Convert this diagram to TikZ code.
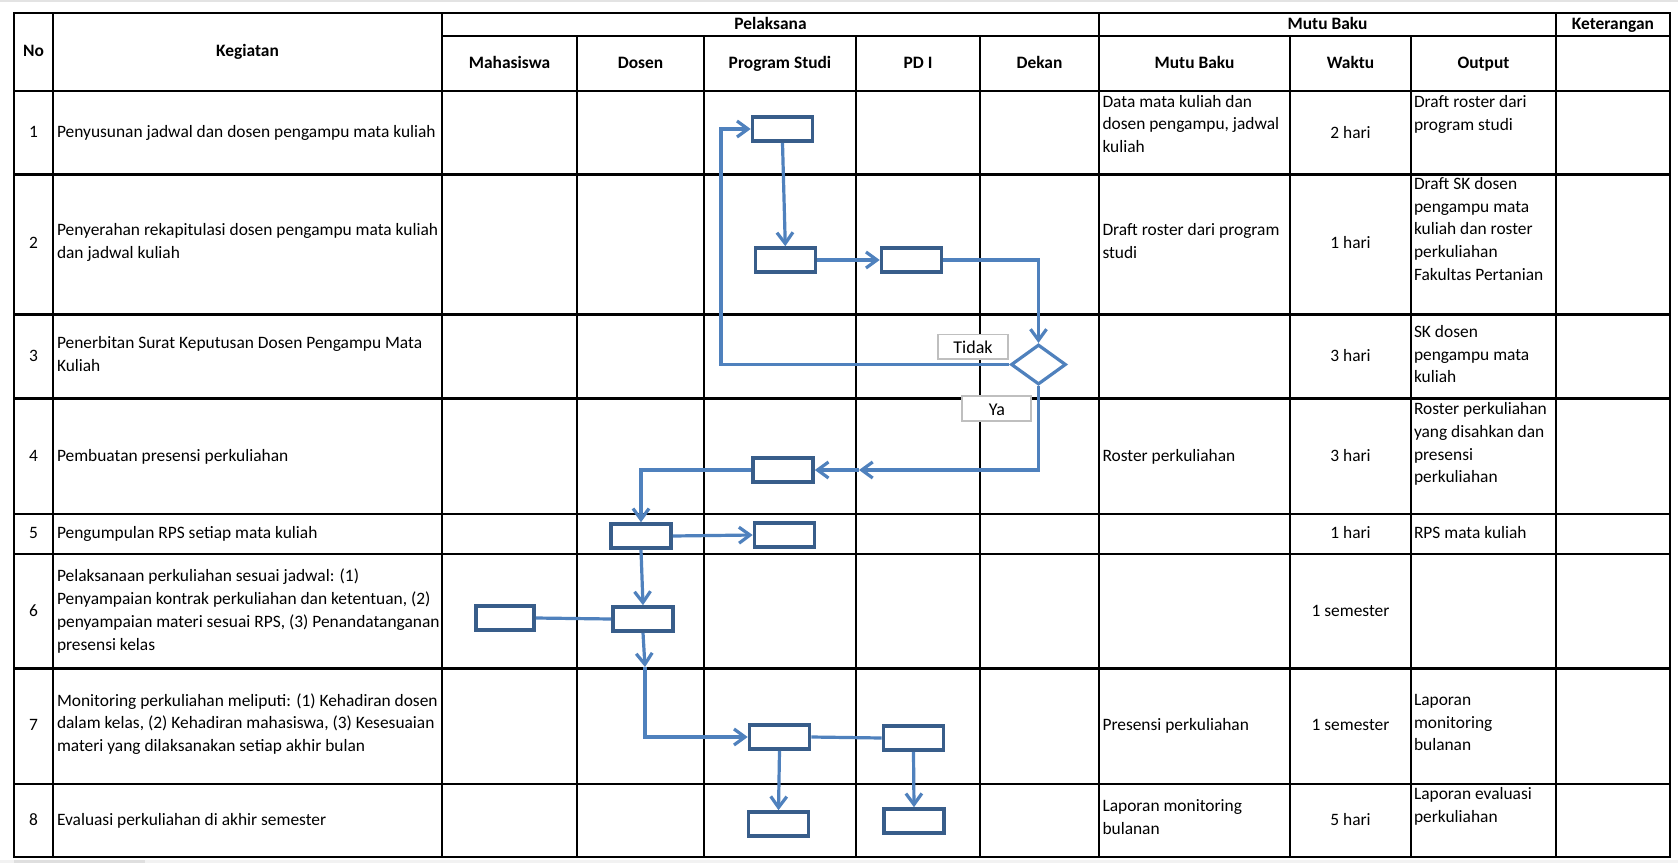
\documentclass[tikz,border=0pt]{standalone}
\usepackage{fontspec}
\setmainfont{Carlito}
\usetikzlibrary{arrows.meta,shapes.geometric,calc}
\definecolor{boxc}{HTML}{385D8A}
\definecolor{linec}{HTML}{4F81BD}
\definecolor{lblc}{HTML}{BFBFBF}
\newcommand\cellfont{\fontsize{8.7}{11.4}\selectfont}
\begin{document}
\begin{tikzpicture}[x=0.5pt,y=-0.5pt,
  grid/.style={line width=1.35pt,black},
  tx/.style={inner sep=0pt,outer sep=0pt,font=\cellfont,align=left,anchor=west,execute at begin node=\strut,execute at end node=\strut},
  tc/.style={tx,align=center,anchor=center},
  th/.style={tc,font=\cellfont\bfseries},
  fbox/.style={draw=boxc,line width=1.8pt,fill=white,minimum width=30pt,minimum height=12pt,inner sep=0pt},
  conn/.style={draw=linec,line width=1.6pt},
  arr/.style={conn,-{Straight Barb[length=5.5pt,width=8pt]}},
  lbl/.style={draw=lblc,line width=0.8pt,fill=white,minimum width=34.9pt,minimum height=12.2pt,inner sep=0pt},
]
\useasboundingbox (0,0) rectangle (1678,863);
\fill[white] (0,0) rectangle (1678,863);
\fill[gray!22] (0,0) rectangle (1678,2);
\fill[gray!10] (0,859.5) rectangle (1678,863);
\fill[gray!25] (14,859.5) rectangle (145,863);

% ---------- table grid ----------
\draw[grid] (14,13) rectangle (1670,857);
\foreach \y in {91,174.5,314.5,398.5,514,554,668.5,784} \draw[grid] (14,\y) -- (1670,\y);
\draw[grid] (442,36) -- (1670,36);
\foreach \x in {53,442,1099,1556} \draw[grid] (\x,13) -- (\x,857);
\foreach \x in {577,704,856,980,1290,1411} \draw[grid] (\x,36) -- (\x,857);

% ---------- headers ----------
\node[th] (hno) at (33.5,52) {No};
\node[th] (hkeg) at (247.5,52) {Kegiatan};
\node[th] (hpel) at (770.5,24.5) {Pelaksana};
\node[th] (hmb) at (1327.5,24.5) {Mutu Baku};
\node[th] (hket) at (1613,24.5) {Keterangan};
\node[th] (hmhs) at (509.5,63.5) {Mahasiswa};
\node[th] (hdos) at (640.5,63.5) {Dosen};
\node[th] (hps) at (780,63.5) {Program Studi};
\node[th] (hpd) at (918,63.5) {PD I};
\node[th] (hdek) at (1039.5,63.5) {Dekan};
\node[th] (hmb2) at (1194.5,63.5) {Mutu Baku};
\node[th] (hwak) at (1350.5,63.5) {Waktu};
\node[th] (hout) at (1483.5,63.5) {Output};

% ---------- row 1 ----------
\node[tc] (n1) at (33.5,133) {1};
\node[tx] (k1t) at (57,133) {Penyusunan jadwal dan dosen pengampu mata kuliah};
\node[tx] (m1t) at (1102.5,127.3) {Data mata kuliah dan\\dosen pengampu, jadwal\\kuliah};
\node[tc] (w1) at (1350.5,134) {2 hari};
\node[tx] (o1) at (1414,116) {Draft roster dari\\program studi};
% ---------- row 2 ----------
\node[tc] (n2) at (33.5,244) {2};
\node[tx] (k2t) at (57,244) {Penyerahan rekapitulasi dosen pengampu mata kuliah\\dan jadwal kuliah};
\node[tx] (m2t) at (1102.5,244.5) {Draft roster dari program\\studi};
\node[tc] (w2) at (1350.5,244) {1 hari};
\node[tx] (o2) at (1414,232.3) {Draft SK dosen\\pengampu mata\\kuliah dan roster\\perkuliahan\\Fakultas Pertanian};
% ---------- row 3 ----------
\node[tc] (n3) at (33.5,357) {3};
\node[tx] (k3t) at (57,357.5) {Penerbitan Surat Keputusan Dosen Pengampu Mata\\Kuliah};
\node[tc] (w3) at (1350.5,357) {3 hari};
\node[tx] (o3) at (1414,357.5) {SK dosen\\pengampu mata\\kuliah};
% ---------- row 4 ----------
\node[tc] (n4) at (33.5,457) {4};
\node[tx] (k4t) at (57,457) {Pembuatan presensi perkuliahan};
\node[tx] (m4t) at (1102.5,457) {Roster perkuliahan};
\node[tc] (w4) at (1350.5,457) {3 hari};
\node[tx] (o4) at (1414,446) {Roster perkuliahan\\yang disahkan dan\\presensi\\perkuliahan};
% ---------- row 5 ----------
\node[tc] (n5) at (33.5,534) {5};
\node[tx] (k5t) at (57,534) {Pengumpulan RPS setiap mata kuliah};
\node[tc] (w5) at (1350.5,534) {1 hari};
\node[tx] (o5) at (1414,534) {RPS mata kuliah};
% ---------- row 6 ----------
\node[tc] (n6) at (33.5,612) {6};
\node[tx] (k6t) at (57,613) {Pelaksanaan perkuliahan sesuai jadwal: (1)\\Penyampaian kontrak perkuliahan dan ketentuan, (2)\\penyampaian materi sesuai RPS, (3) Penandatanganan\\presensi kelas};
\node[tc] (w6) at (1350.5,612) {1 semester};
% ---------- row 7 ----------
\node[tc] (n7) at (33.5,726) {7};
\node[tx] (k7t) at (57,726) {Monitoring perkuliahan meliputi: (1) Kehadiran dosen\\dalam kelas, (2) Kehadiran mahasiswa, (3) Kesesuaian\\materi yang dilaksanakan setiap akhir bulan};
\node[tx] (m7t) at (1102.5,726) {Presensi perkuliahan};
\node[tc] (w7) at (1350.5,726) {1 semester};
\node[tx] (o7) at (1414,726) {Laporan\\monitoring\\bulanan};
% ---------- row 8 ----------
\node[tc] (n8) at (33.5,821) {8};
\node[tx] (k8t) at (57,821) {Evaluasi perkuliahan di akhir semester};
\node[tx] (m8t) at (1102.5,820.5) {Laporan monitoring\\bulanan};
\node[tc] (w8) at (1350.5,821) {5 hari};
\node[tx] (o8) at (1414,808.5) {Laporan evaluasi\\perkuliahan};

% ---------- decision labels ----------
\node[lbl] (tidak) at (973,346.5) {};
\node[tc,font=\fontsize{9}{11.4}\selectfont] (tidakt) at (973,349) {Tidak};
\node[lbl,minimum width=34.3pt,minimum height=12.4pt] (ya) at (996.5,408.3) {};
\node[tc,font=\fontsize{9}{11.4}\selectfont] (yat) at (997,411) {Ya};

% ---------- flow boxes ----------
\node[fbox] (A) at (782.5,129) {};
\node[fbox] (B) at (785.3,260) {};
\node[fbox] (C) at (911.5,260) {};
\node[fbox] (D) at (783,470) {};
\node[fbox] (E) at (641,536) {};
\node[fbox] (F) at (784.5,535) {};
\node[fbox] (G) at (643,619) {};
\node[fbox,minimum width=29pt] (H) at (505,618) {};
\node[fbox] (I) at (779.5,737) {};
\node[fbox] (J) at (913.5,738) {};
\node[fbox] (K) at (778.5,824) {};
\node[fbox] (L) at (914,821) {};
\node[draw=linec,line width=1.6pt,diamond,minimum width=27.5pt,minimum height=20pt,inner sep=0pt,fill=white] (dia) at (1038.5,364.5) {};

% ---------- connectors ----------
\coordinate (lp) at (721,129);
\coordinate (m1) at (859,470);
\coordinate (q1) at (645,667);
\draw[arr] (A.south) -- (B.north);
\draw[arr] (B.east) -- (C.west);
\draw[arr] (C.east) -| (dia.north);
\draw[arr] (dia.west) -| (lp) -- (A.west);
\draw[arr] (dia.south) |- (m1);
\draw[arr] (m1) -- (D.east);
\draw[arr] (D.west) -| (E.north);
\draw[arr] (E.east) -- (F.west);
\draw[arr] (E.south) -- (G.north);
\draw[conn] (H.east) -- (G.west);
\draw[arr] (G.south) -- (q1);
\draw[arr] (q1) |- (I.west);
\draw[conn] (I.east) -- (J.west);
\draw[arr] (I.south) -- (K.north);
\draw[arr] (J.south) -- (L.north);
\end{tikzpicture}
\end{document}
